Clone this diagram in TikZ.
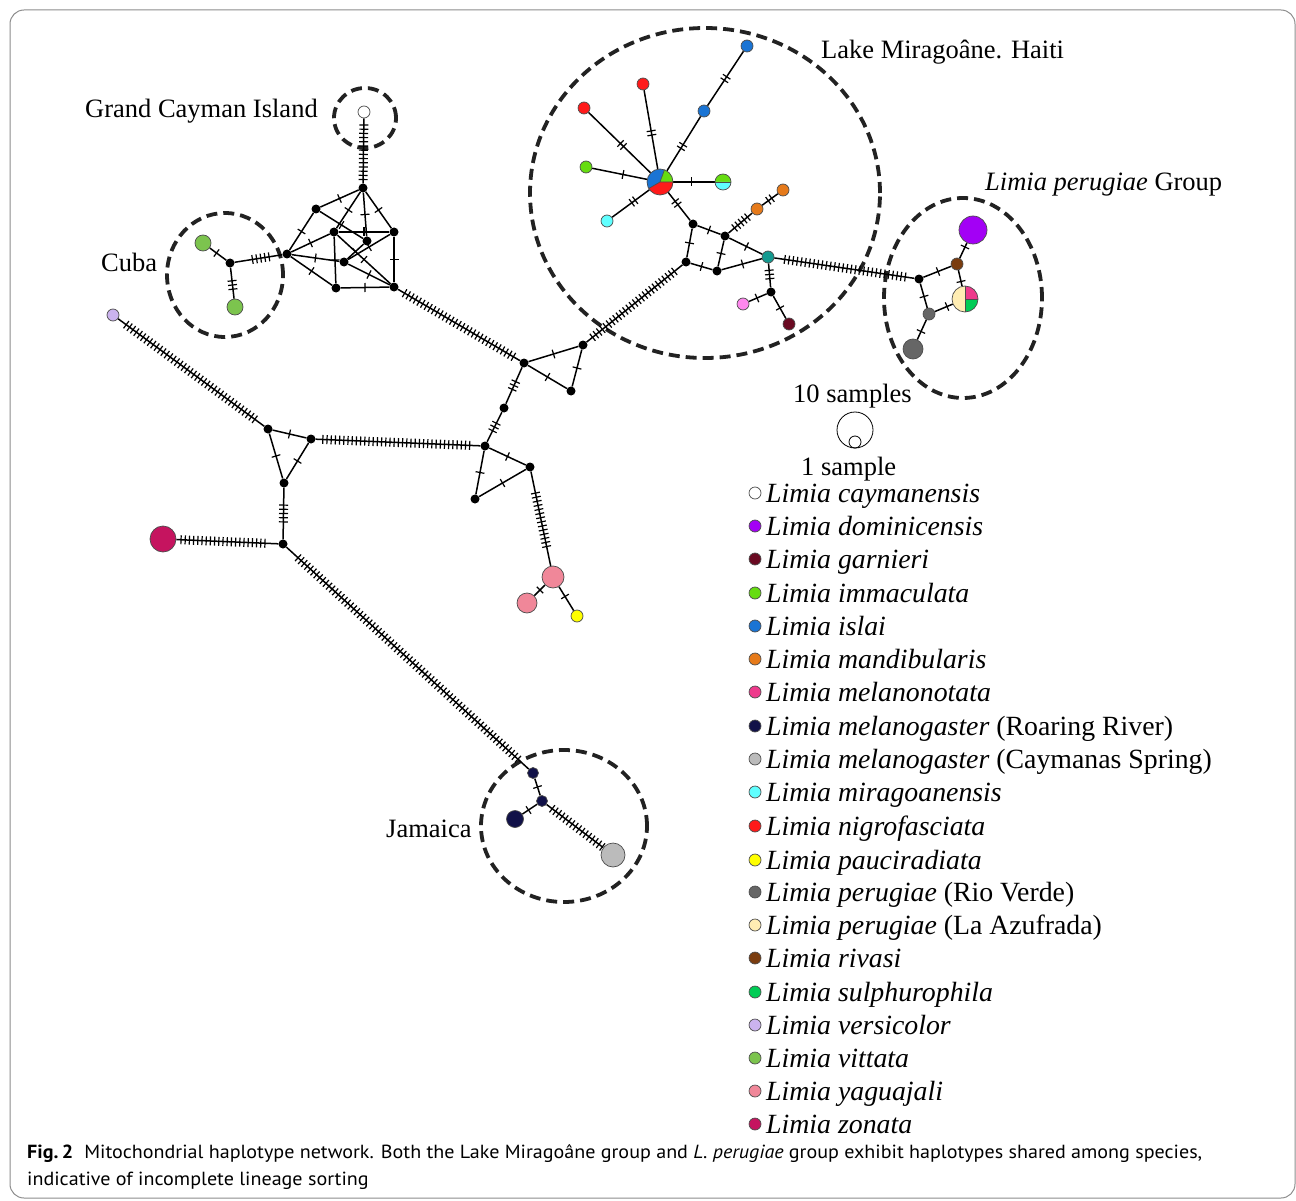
\documentclass[tikz,border=0pt]{standalone}
\usepackage{fontspec}
\setmainfont{Liberation Serif}
\newfontfamily\capfont{PT Sans}
\usepackage{graphicx}
\usetikzlibrary{calc}
\newsavebox\capbox
\newsavebox\captwo
\pgfdeclarelayer{bg}
\pgfsetlayers{bg,main}
\definecolor{cCay}{HTML}{FFFFFF}
\definecolor{cDom}{HTML}{A300F5}
\definecolor{cGar}{HTML}{6A0A22}
\definecolor{cImm}{HTML}{66DD11}
\definecolor{cIsl}{HTML}{1A74D4}
\definecolor{cMan}{HTML}{E67A1A}
\definecolor{cMel}{HTML}{EE3A8C}
\definecolor{cMRR}{HTML}{111148}
\definecolor{cMCS}{HTML}{BBBBBB}
\definecolor{cMir}{HTML}{60FFFF}
\definecolor{cNig}{HTML}{FF1A1A}
\definecolor{cPau}{HTML}{FFFF00}
\definecolor{cPRV}{HTML}{666666}
\definecolor{cPLA}{HTML}{FFEDB3}
\definecolor{cRiv}{HTML}{7A3C0F}
\definecolor{cSul}{HTML}{00CC55}
\definecolor{cVer}{HTML}{CBB3EE}
\definecolor{cVit}{HTML}{7CC44E}
\definecolor{cYag}{HTML}{F08799}
\definecolor{cZon}{HTML}{C5145F}
\definecolor{cTeal}{HTML}{149A90}
\definecolor{cOrc}{HTML}{FF88EE}
\definecolor{dashc}{HTML}{222222}
\tikzset{
  edge/.style={line width=1.5pt, black},
  tk/.style={line width=1.2pt, black},
  mv/.style={circle, fill=black, inner sep=0pt, minimum size=9pt},
  hap/.style={circle, draw=black!70, line width=0.7pt, fill=#1, inner sep=0pt},
  grp/.style={draw=dashc, line width=3.8pt, dash pattern=on 11pt off 6pt},
  lbl/.style={font=\fontsize{26.5}{30}\selectfont, inner sep=0pt, anchor=base west},
  leg/.style={font=\fontsize{27.8}{30}\selectfont, inner sep=0pt, anchor=base west},
}
\newcommand\mutedge[4][0.5]{%
  \draw[edge] (#2) -- (#3);
  \coordinate (mm) at ($(#2)!#1!(#3)$);
  \foreach \k in {1,...,#4}{%
    \pgfmathsetmacro\off{(\k-(#4+1)/2)*4.2}%
    \draw[tk] ($(mm)!\off pt!(#3)!4.5pt!90:(#3)$) -- ($(mm)!\off pt!(#3)!4.5pt!-90:(#3)$);
  }%
}
\newcommand\pieslice[5]{% node, radius, start, end, colour
  \fill[#5] (#1.center) -- ++(#3:#2) arc[start angle=#3, end angle=#4, radius=#2] -- cycle;
}
\begin{document}
\sbox\capbox{\fontsize{19}{23}\selectfont\capfont\textbf{Fig.\,2}\hspace{0.55em}Mitochondrial haplotype network. Both the Lake Mirago\^ane group and \textit{L.~perugiae} group exhibit haplotypes shared among species,}%
\sbox\captwo{\fontsize{19}{23}\selectfont\capfont indicative of incomplete lineage sorting}%
\begin{tikzpicture}[x=1pt,y=-1pt]
\useasboundingbox (0,0) rectangle (1296,1201);
\draw[black!45, line width=1pt, rounded corners=14pt] (10,10) rectangle (1295,1198);

% ---------- haplotype nodes ----------
\node[hap=cCay, minimum size=12pt] (cay) at (364,112) {};
\foreach \n/\x/\y in {A/363/188,B/316/209,C/334/232,D/394/232,E/367/241,F/287/254,G/344/262,H/336/288,I/394/287}
  \node[mv] (\n) at (\x,\y) {};
\node[mv] (J) at (230,263) {};
\node[hap=cVit, minimum size=16pt] (vit1) at (203,243) {};
\node[hap=cVit, minimum size=16pt] (vit2) at (235,307) {};
\foreach \n/\x/\y in {K/524/363,L/583/345,M/571/391,N/504/408,O/485/446,P/530/467,Q/475/499,T/268/429,U/311/439,V/284/483,W/283/544}
  \node[mv] (\n) at (\x,\y) {};
\node[hap=cYag, minimum size=22pt] (yag1) at (553,577) {};
\node[hap=cYag, minimum size=20pt] (yag2) at (527,603) {};
\node[hap=cPau, minimum size=12pt] (pau) at (577,616) {};
\node[hap=cVer, minimum size=12pt] (ver) at (113,315) {};
\node[hap=cZon, minimum size=26pt] (zon) at (163,539) {};
\node[hap=cMRR, minimum size=11pt] (X) at (533,773) {};
\node[hap=cMRR, minimum size=11pt] (Y) at (542,801) {};
\node[hap=cMRR, minimum size=17pt] (Z) at (515,819) {};
\node[hap=cMCS, minimum size=24pt] (cs) at (613,855) {};
\node[hap=cIsl, minimum size=12pt] (isl1) at (747,46) {};
\node[hap=cIsl, minimum size=12pt] (isl2) at (704,111) {};
\node[hap=cNig, minimum size=12pt] (nig1) at (643,84) {};
\node[hap=cNig, minimum size=12pt] (nig2) at (584,108) {};
\node[hap=cImm, minimum size=12pt] (imm) at (586,167) {};
\node[circle, inner sep=0pt, minimum size=26pt] (hub) at (660,182) {};
\node[circle, inner sep=0pt, minimum size=16pt] (half) at (723,182) {};
\node[hap=cMir, minimum size=12pt] (mir) at (607,221) {};
\node[hap=cMan, minimum size=12pt] (or1) at (757,209) {};
\node[hap=cMan, minimum size=12pt] (or2) at (783,190) {};
\foreach \n/\x/\y in {S1/693/224,S2/725/236,S3/686/262,S4/717/271,S5/771/292}
  \node[mv] (\n) at (\x,\y) {};
\node[hap=cTeal, minimum size=12pt] (teal) at (768,257) {};
\node[hap=cOrc, minimum size=12pt] (orc) at (743,304) {};
\node[hap=cGar, minimum size=12pt] (gar) at (789,324) {};
\node[mv] (PA) at (919,279) {};
\node[hap=cDom, minimum size=28pt] (dom) at (973,230) {};
\node[hap=cRiv, minimum size=12pt] (riv) at (957,264) {};
\node[circle, inner sep=0pt, minimum size=26pt] (pie) at (965,299) {};
\node[hap=cPRV, minimum size=12pt] (rv1) at (929,314) {};
\node[hap=cPRV, minimum size=20pt] (rv2) at (913,349) {};

% pies
\pieslice{hub}{13pt}{70}{210}{cIsl}
\pieslice{hub}{13pt}{0}{70}{cImm}
\pieslice{hub}{13pt}{210}{360}{cNig}
\draw[black!70, line width=0.7pt] (hub.center) -- ++(70:13pt) (hub.center) -- ++(0:13pt) (hub.center) -- ++(210:13pt);
\draw[black!70, line width=0.7pt] (hub.center) circle[radius=13pt];
\pieslice{half}{8pt}{0}{180}{cImm}
\pieslice{half}{8pt}{180}{360}{cMir}
\draw[black!70, line width=0.7pt] (half.west) -- (half.east);
\draw[black!70, line width=0.7pt] (half.center) circle[radius=8pt];
\pieslice{pie}{13pt}{90}{270}{cPLA}
\pieslice{pie}{13pt}{0}{90}{cMel}
\pieslice{pie}{13pt}{-90}{0}{cSul}
\draw[black!70, line width=0.7pt] (pie.north) -- (pie.south) (pie.center) -- (pie.east);
\draw[black!70, line width=0.7pt] (pie.center) circle[radius=13pt];

% ---------- groups and edges ----------
\begin{pgfonlayer}{bg}
\draw[grp] (365,118) ellipse[x radius=31pt, y radius=30pt];
\draw[grp] (225,275) ellipse[x radius=58pt, y radius=62pt];
\draw[grp] (705,193) ellipse[x radius=175pt, y radius=165pt];
\draw[grp] (963,298) ellipse[x radius=79pt, y radius=100pt];
\draw[grp] (564,826) ellipse[x radius=83pt, y radius=76pt];

\mutedge[0.53]{cay}{A}{14}
\mutedge{vit1}{J}{1}
\mutedge{J}{vit2}{3}
\mutedge[0.54]{J}{F}{5}
\foreach \a/\b in {A/B,A/C,A/E,A/D,B/F,B/E,C/D,C/F,C/H,C/I,E/G,F/G,F/H,G/D,G/I,D/I,H/I}
  {\mutedge{\a}{\b}{1}}
\mutedge{I}{K}{31}
\foreach \a/\b in {K/L,K/M,L/M,O/P,O/Q,Q/P,yag1/yag2,yag1/pau,T/U,T/V,U/V,X/Y,Y/Z}
  {\mutedge{\a}{\b}{1}}
\mutedge{K}{N}{3}
\mutedge{N}{O}{3}
\mutedge[0.48]{P}{yag1}{14}
\mutedge[0.49]{L}{S3}{26}
\mutedge{ver}{T}{39}
\mutedge[0.49]{U}{O}{36}
\mutedge{V}{W}{5}
\mutedge{zon}{W}{21}
\mutedge{W}{X}{72}
\mutedge[0.52]{Y}{cs}{17}
\foreach \a/\b in {isl1/isl2,isl2/hub,nig1/hub,nig2/hub,mir/hub,hub/S1,or1/or2}
  {\mutedge{\a}{\b}{2}}
\foreach \a/\b in {imm/hub,hub/half,S1/S2,S1/S3,S3/S4,S2/S4,S2/teal,S4/teal,S5/orc,S5/gar,PA/riv,riv/dom,riv/pie,PA/rv1,rv1/pie,rv1/rv2}
  {\mutedge{\a}{\b}{1}}
\mutedge{S2}{or1}{5}
\mutedge{teal}{S5}{3}
\mutedge[0.51]{teal}{PA}{30}
\end{pgfonlayer}

% ---------- labels ----------
\node[lbl] (tCay) at (85,118) {Grand Cayman Island};
\node[lbl] (tCuba) at (101,272) {Cuba};
\node[lbl] (tMir) at (821,59) {Lake Mirago\^ane. Haiti};
\node[lbl] (tPer) at (985,191) {\textit{Limia perugiae} Group};
\node[lbl] (tJam) at (386,837) {Jamaica};

% ---------- size legend ----------
\node[lbl] (t10) at (793,402) {10 samples};
\node[circle, draw=black, line width=0.8pt, minimum size=36pt, inner sep=0pt] (big) at (855,430) {};
\node[circle, draw=black, line width=0.8pt, minimum size=12pt, inner sep=0pt] (small) at (855,442) {};
\node[lbl] (t1) at (801,475) {1 sample};

% ---------- colour legend ----------
\foreach \c/\y/\t [count=\i] in {
  cCay/493/{\textit{Limia caymanensis}},
  cDom/526/{\textit{Limia dominicensis}},
  cGar/559/{\textit{Limia garnieri}},
  cImm/593/{\textit{Limia immaculata}},
  cIsl/626/{\textit{Limia islai}},
  cMan/659/{\textit{Limia mandibularis}},
  cMel/692/{\textit{Limia melanonotata}},
  cMRR/726/{\textit{Limia melanogaster} (Roaring River)},
  cMCS/759/{\textit{Limia melanogaster} (Caymanas Spring)},
  cMir/792/{\textit{Limia miragoanensis}},
  cNig/826/{\textit{Limia nigrofasciata}},
  cPau/860/{\textit{Limia pauciradiata}},
  cPRV/892/{\textit{Limia perugiae} (Rio Verde)},
  cPLA/925/{\textit{Limia perugiae} (La Azufrada)},
  cRiv/958/{\textit{Limia rivasi}},
  cSul/992/{\textit{Limia sulphurophila}},
  cVer/1025/{\textit{Limia versicolor}},
  cVit/1058/{\textit{Limia vittata}},
  cYag/1091/{\textit{Limia yaguajali}},
  cZon/1124/{\textit{Limia zonata}}}{
  \node[hap=\c, minimum size=12pt] (lm\i) at (755,\y) {};
  \node[leg] (lt\i) at (766,\y+9) {\t};
}

% ---------- caption ----------
\node[inner sep=0pt, anchor=base west] (cap1) at (27,1158) {\resizebox{1175pt}{\height}{\usebox\capbox}};
\node[inner sep=0pt, anchor=base west] (cap2) at (27,1185) {\resizebox{\dimexpr\wd\captwo*1175/\numexpr\wd\capbox/65536\relax\relax}{\height}{\usebox\captwo}};
\end{tikzpicture}
\end{document}
